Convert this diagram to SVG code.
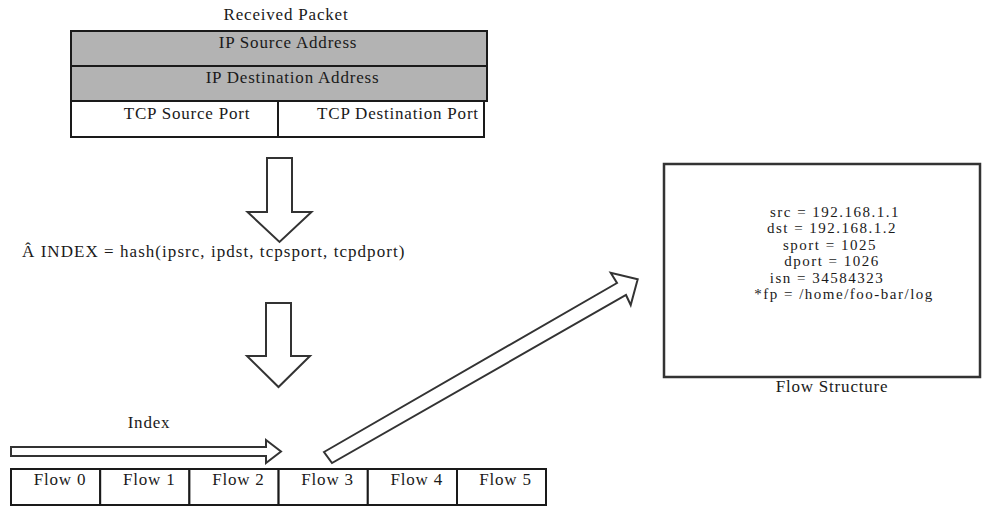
<svg xmlns="http://www.w3.org/2000/svg" width="987" height="506" viewBox="0 0 987 506">
<style>
text{font-family:"Liberation Serif","Times New Roman",serif;font-size:17px;fill:#1a1a1a;letter-spacing:0.8px}
.c{text-anchor:middle}
.s{font-size:15px;letter-spacing:1.5px}
.eq{letter-spacing:1.05px}
.gray{fill:#b3b3b3;stroke:#1a1a1a;stroke-width:2}
.cell{fill:#fff;stroke:#1a1a1a;stroke-width:2}
.arrow{fill:#fff;stroke:#333;stroke-width:2;stroke-linejoin:miter}
.box{fill:#fff;stroke:#333;stroke-width:2.5}
</style>
<rect width="987" height="506" fill="#fff"/>
<g id="packet">
<text class="c" x="286" y="20">Received Packet</text>
<rect class="gray" x="71" y="31" width="416" height="35"/>
<rect class="gray" x="71" y="66" width="416" height="35"/>
<rect class="cell" x="71" y="101" width="207" height="36"/>
<rect class="cell" x="278" y="101" width="206" height="36"/>
<text class="c" x="288" y="48">IP Source Address</text>
<text class="c" x="292.5" y="83">IP Destination Address</text>
<text class="c" x="187" y="119">TCP Source Port</text>
<text class="c" x="398" y="119">TCP Destination Port</text>
</g>
<g id="hash">
<text class="eq" x="22" y="257">Â INDEX = hash(ipsrc, ipdst, tcpsport, tcpdport)</text>
</g>
<g id="index-label">
<text class="c" x="149" y="428">Index</text>
</g>
<g id="flow-table">
<rect class="cell" x="11" y="469" width="89.2" height="36"/>
<rect class="cell" x="100.2" y="469" width="89.2" height="36"/>
<rect class="cell" x="189.4" y="469" width="89.2" height="36"/>
<rect class="cell" x="278.6" y="469" width="89.2" height="36"/>
<rect class="cell" x="367.8" y="469" width="89.2" height="36"/>
<rect class="cell" x="457" y="469" width="89" height="36"/>
<text class="c" x="60" y="485">Flow 0</text>
<text class="c" x="149.2" y="485">Flow 1</text>
<text class="c" x="238.4" y="485">Flow 2</text>
<text class="c" x="327.6" y="485">Flow 3</text>
<text class="c" x="416.8" y="485">Flow 4</text>
<text class="c" x="505.5" y="485">Flow 5</text>
</g>
<g id="flow-structure">
<rect class="box" x="664" y="164" width="316" height="213"/>
<text class="c s" x="835" y="216.5">src = 192.168.1.1</text>
<text class="c s" x="832" y="233">dst = 192.168.1.2</text>
<text class="c s" x="830" y="249.6">sport = 1025</text>
<text class="c s" x="832" y="266.2">dport = 1026</text>
<text class="c s" x="827" y="282.8">isn = 34584323</text>
<text class="c s" x="844" y="299.4">*fp = /home/foo-bar/log</text>
<text class="c" x="832" y="392">Flow Structure</text>
</g>
<g id="connectors">
<polygon class="arrow" points="267,158 292,158 292,212 311.5,212 279.5,242 247.5,212 267,212"/>
<polygon class="arrow" points="266,303 291,303 291,356 310,356 278.5,387 247,356 266,356"/>
<polygon class="arrow" points="11,447 266,447 266,440 281,451.5 266,463 266,456 11,456"/>
<polygon class="arrow" points="324,452 617,283 610.7,272.7 637.7,279.3 630.7,305 626,295 332,463"/>
</g>
</svg>
